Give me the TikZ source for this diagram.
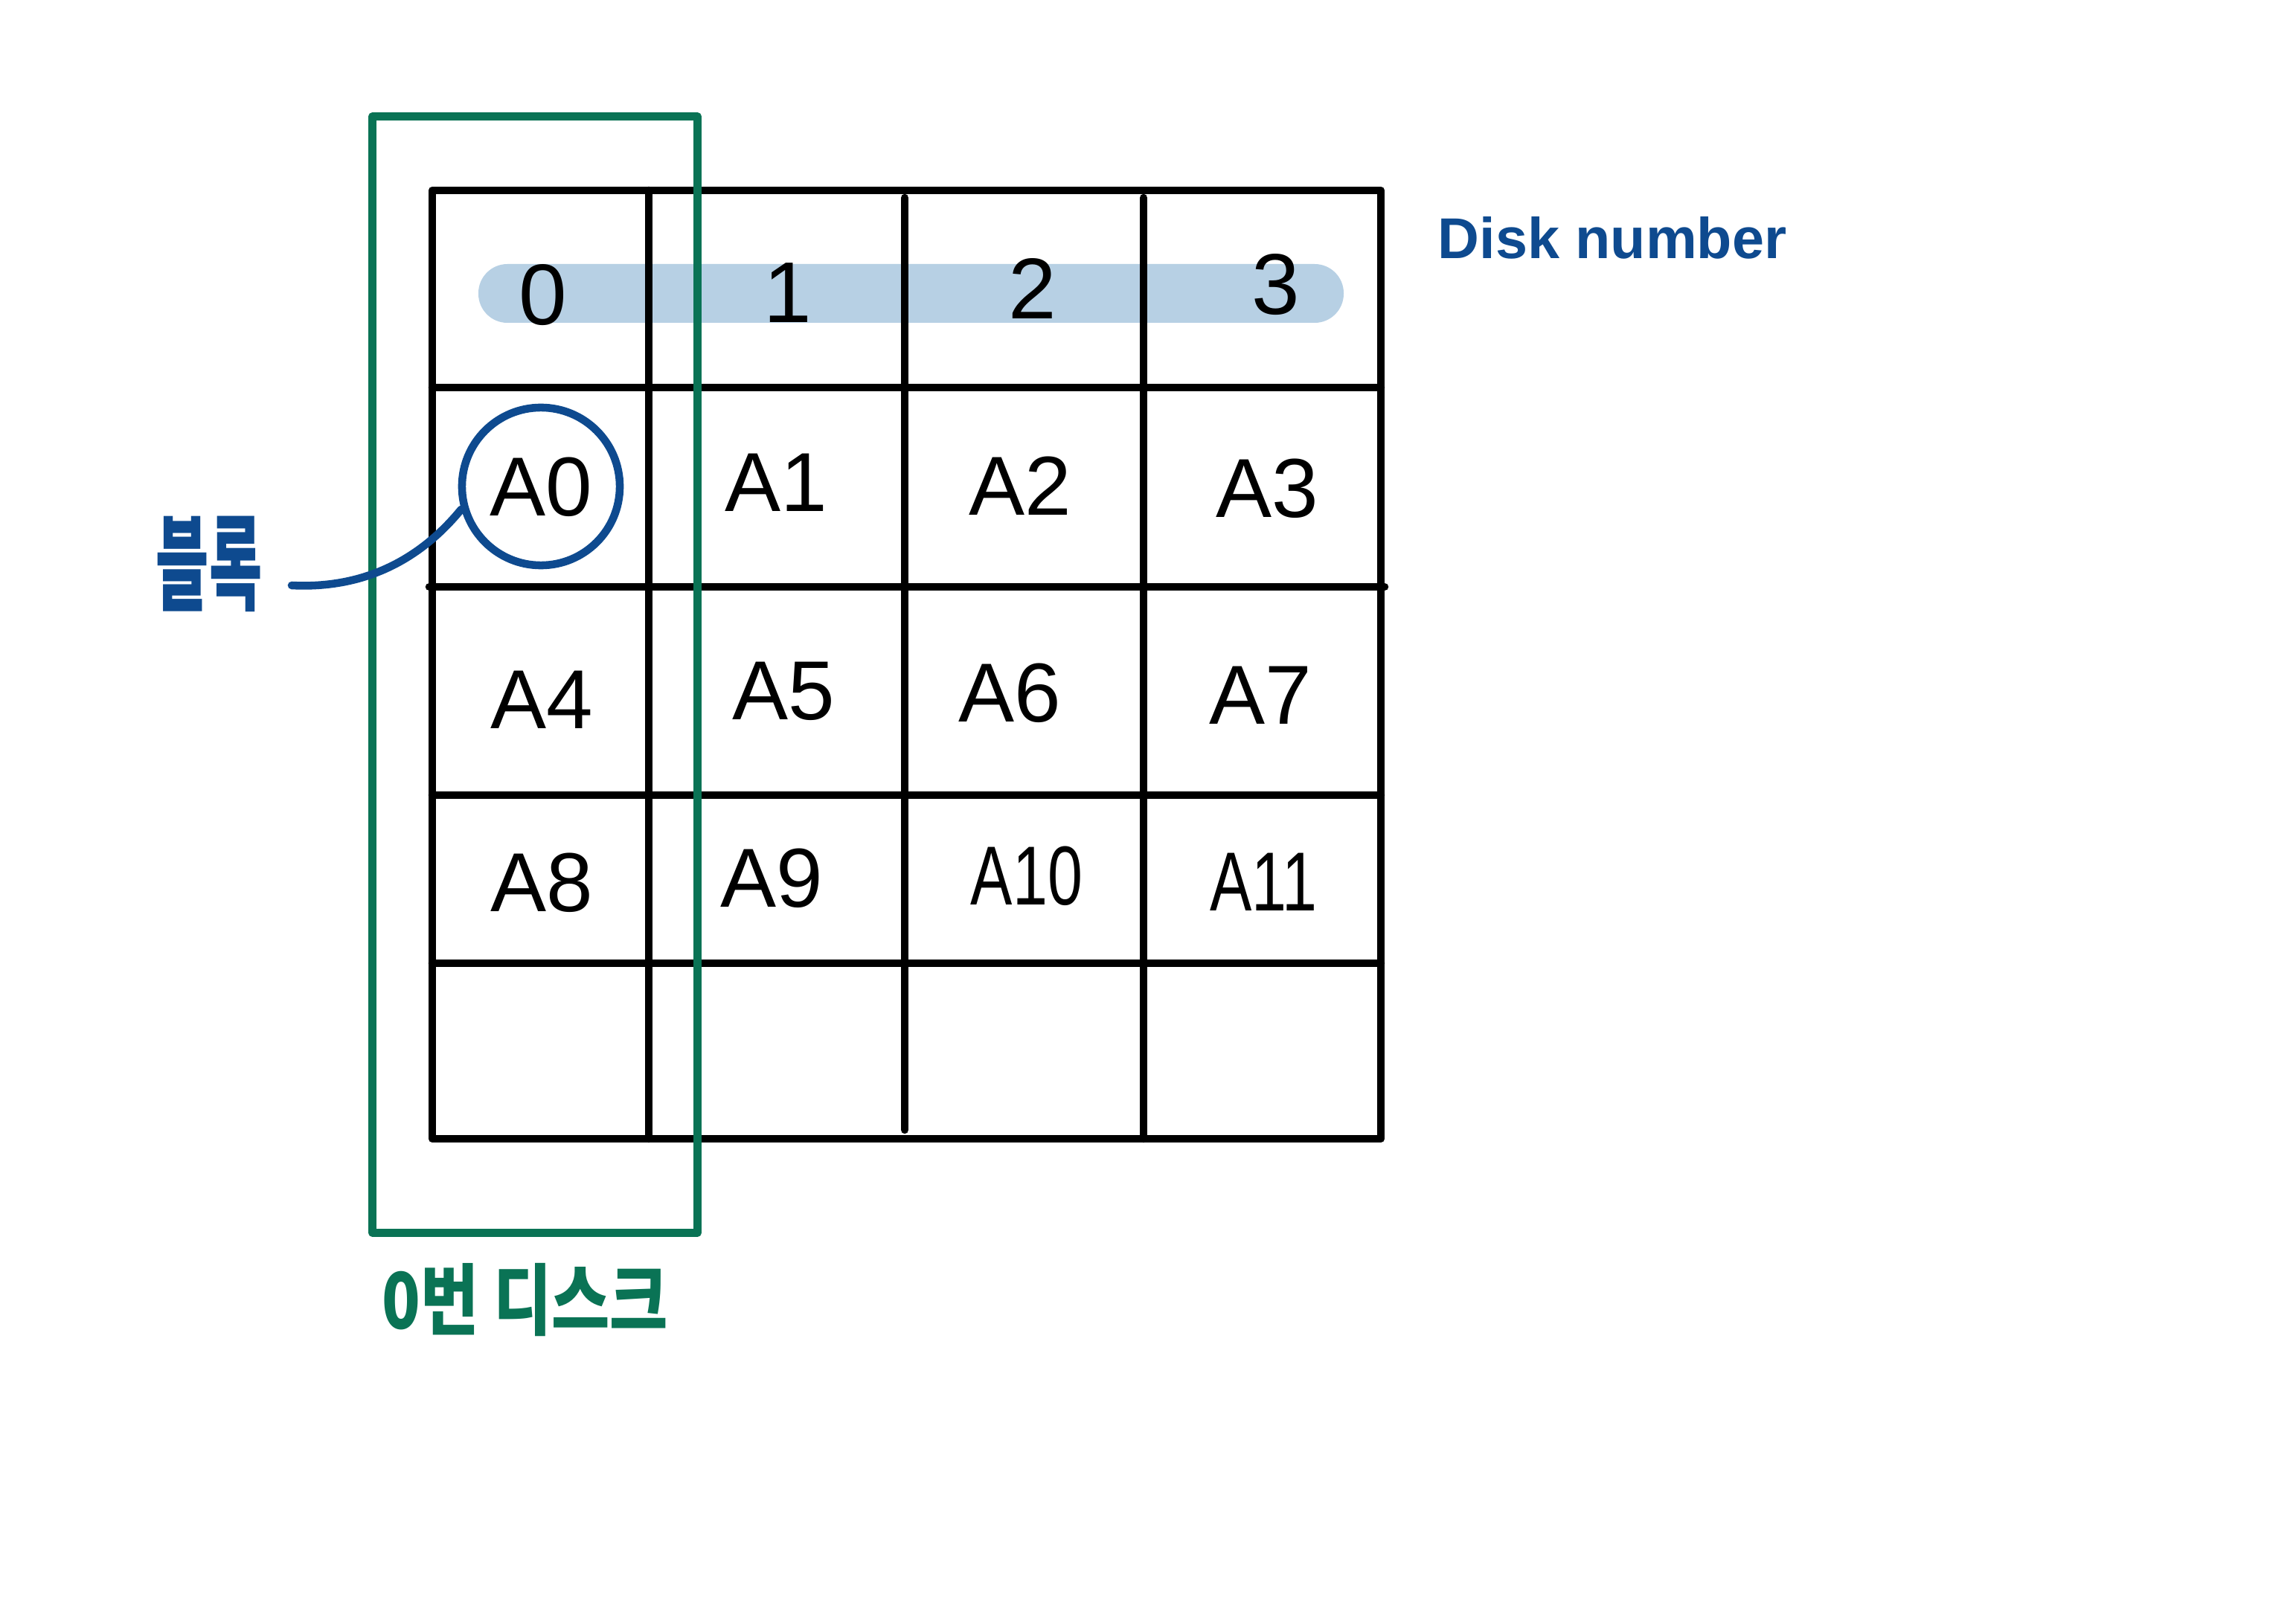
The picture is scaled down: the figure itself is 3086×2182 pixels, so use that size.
\documentclass[tikz,border=0pt]{standalone}
\usepackage{fontspec}
\setmainfont{Liberation Sans}
\newfontfamily\kr{Noto Sans CJK KR}
\definecolor{bandblue}{RGB}{183,208,228}
\definecolor{inkblue}{RGB}{14,74,143}
\definecolor{inkgreen}{RGB}{10,115,85}
\begin{document}
\begin{tikzpicture}[x=0.01cm, y=-0.01cm, line cap=round, line join=round,
  gridline/.style={line width=3pt, black},
  cell/.style={inner sep=0pt, font=\fontsize{32}{36}\selectfont},
  head/.style={inner sep=0pt, font=\fontsize{33}{38}\selectfont},
  bluelabel/.style={inner sep=0pt, text=inkblue},
  greenlabel/.style={inner sep=0pt, text=inkgreen}]
\useasboundingbox[fill=white] (0,0) rectangle (3086,2182);

% highlight band behind the disk numbers
\fill[bandblue, rounded corners=0.39cm] (643,355) rectangle (1806,434);

% grid
\draw[gridline] (581,256) rectangle (1856,1531);
\draw[gridline] (581,521) -- (1856,521);
\draw[gridline] (577,789) -- (1861,789);
\draw[gridline] (581,1069) -- (1856,1069);
\draw[gridline] (581,1295) -- (1856,1295);
\draw[gridline] (872,256) -- (872,1531);
\draw[gridline] (1216,266) -- (1216,1519);
\draw[gridline] (1537,266) -- (1537,1531);

% header numbers
\node[head] (h0) at (730,397) {0};
\node[head] (h1) at (1059,394) {1};
\node[head] (h2) at (1388,388) {2};
\node[head] (h3) at (1715,383) {3};

% cells
\node[cell] (a0) at (727,655) {A0};
\node[cell] (a1) at (1043,649) {A1};
\node[cell] (a2) at (1371,653) {A2};
\node[cell] (a3) at (1703,657) {A3};
\node[cell] (a4) at (728,941) {A4};
\node[cell] (a5) at (1053,929) {A5};
\node[cell] (a6) at (1357,932) {A6};
\node[cell] (a7) at (1694,935) {A7};
\node[cell] (a8) at (728,1187) {A8};
\node[cell] (a9) at (1037,1181) {A9};
\node[cell] (a10) at (1380,1178) {\scalebox{0.75}[1]{A10}};
\node[cell] (a11) at (1698,1186) {\scalebox{0.75}[1]{A11}};

% disk 0 frame
\node[draw=inkgreen, line width=3pt, minimum width=4.37cm, minimum height=15cm, inner sep=0pt] (disk0) at (719,907) {};
\node[greenlabel] (disk0lbl) at (706,1748) {\kr\fontsize{22}{26}\selectfont\bfseries\scalebox{1.1}[1.35]{0번 디스크}};

% disk number label
\node[bluelabel] (disknum) at (2167,320) {\fontsize{22}{26}\selectfont\bfseries Disk number};

% block circle and its label
\node[draw=inkblue, line width=3pt, circle, minimum size=2.12cm, inner sep=0pt] (blk) at (727,654) {};
\node[bluelabel] (blklbl) at (281,758) {\kr\fontsize{22}{26}\selectfont\bfseries\scalebox{1}[1.8]{블록}};
\coordinate (blkend) at (392,787);
\draw[inkblue, line width=3pt] (blk.196) .. controls (565,752) and (490,792) .. (blkend);
\end{tikzpicture}
\end{document}
